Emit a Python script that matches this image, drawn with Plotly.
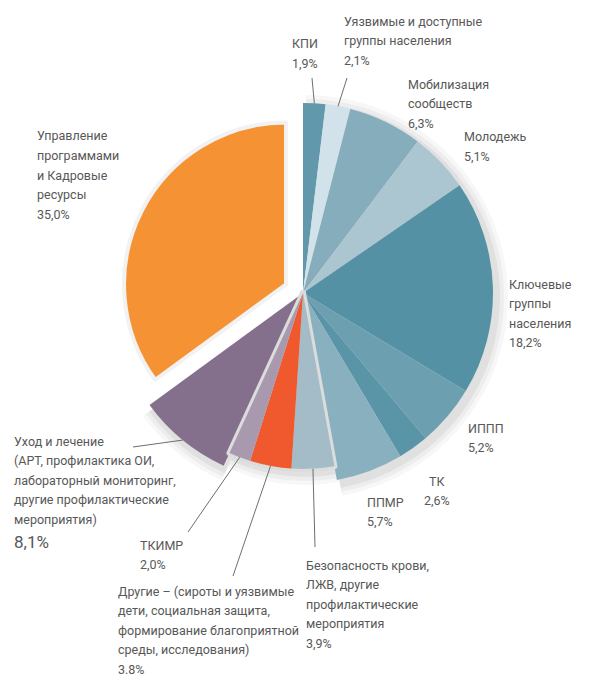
import math
import plotly.graph_objects as go

# page body has an 8px margin on every side; keep the figure inside the window
OFF = 8
W, H = 602 - 2 * OFF, 684 - 2 * OFF
CX, CY = 303, 293          # pie centre (window pixels)
R_MAIN, R_INNER, R_PULLED = 190, 176, 162
PULL_PX = 19

# data, clockwise from 12 o'clock
categories = [
    "КПИ",
    "Уязвимые и доступные группы населения",
    "Мобилизация сообществ",
    "Молодежь",
    "Ключевые группы населения",
    "ИППП",
    "ТК",
    "ППМР",
    "Безопасность крови, ЛЖВ, другие профилактические мероприятия",
    "Другие – (сироты и уязвимые дети, социальная защита, формирование благоприятной среды, исследования)",
    "ТКИМР",
    "Уход и лечение (АРТ, профилактика ОИ, лабораторный мониторинг, другие профилактические мероприятия)",
    "Управление программами и Кадровые ресурсы",
]
shares = [1.9, 2.1, 6.3, 5.1, 18.2, 5.2, 2.6, 5.7, 3.9, 3.8, 2.0, 8.1, 35.0]
share_text = ["1,9%", "2,1%", "6,3%", "5,1%", "18,2%", "5,2%", "2,6%", "5,7%",
              "3,9%", "3.8%", "2,0%", "8,1%", "35,0%"]
label_lines = [
    ["КПИ"],
    ["Уязвимые и доступные", "группы населения"],
    ["Мобилизация", "сообществ"],
    ["Молодежь"],
    ["Ключевые", "группы", "населения"],
    ["ИППП"],
    ["ТК"],
    ["ППМР"],
    ["Безопасность крови,", "ЛЖВ, другие", "профилактические", "мероприятия"],
    ["Другие – (сироты и уязвимые", "дети, социальная защита,", "формирование благоприятной", "среды, исследования)"],
    ["ТКИМР"],
    ["Уход и лечение", "(АРТ, профилактика ОИ,", "лабораторный мониторинг,", "другие профилактические", "мероприятия)"],
    ["Управление", "программами", "и Кадровые", "ресурсы"],
]

colors = ["#6198ab", "#d2e2ea", "#86adbc", "#abc6d1", "#5591a4", "#6c9fb0", "#5a95a7",
          "#88b0bf", "#a3bcc8", "#f0582d", "#a899ae", "#846f8c", "#f59334"]
ring = ["main"] * 8 + ["inner"] * 3 + ["main", "pulled"]

# label placement: (x, centre y of first line, anchor) in window pixels
label_pos = [(291, 44, "left"), (343, 21, "left"), (407, 84, "left"), (463, 137, "left"),
             (508, 284, "left"), (467, 428, "left"), (437, 481, "center"), (366, 502, "left"),
             (305, 565, "left"), (117, 591, "left"), (139, 545, "left"), (13, 441, "left"),
             (36, 136, "left")]
# outer end of leader lines (window pixels), None = no leader
leader_end = [(312, 78), (347, 78), None, None, None, None, None, None,
              (315, 547), (233, 576), (188, 532), (133, 447), None]

FONT = "Roboto, 'Noto Sans', sans-serif"
TXT = "#585858"
FS = 12.5
LINE = 19.6
CLEAR = "rgba(0,0,0,0)"


def to_paper(x, y):
    return (x - OFF) / W, 1 - (y - OFF) / H


def dom(r, dx=0, dy=0):
    x0, y1 = to_paper(CX + dx - r, CY + dy - r)
    x1, y0 = to_paper(CX + dx + r, CY + dy + r)
    return dict(x=[x0, x1], y=[y0, y1])


def layer(col, r, pull=0, line_color=None, line_width=0, dx=0, dy=0):
    lw = [line_width if c != CLEAR else 0 for c in col]
    lc = [line_color or c for c in col]
    pulls = [pull if ring[i] == "pulled" else 0 for i in range(len(shares))]
    return go.Pie(
        labels=categories, values=shares, sort=False, direction="clockwise", rotation=0,
        marker=dict(colors=col, line=dict(color=lc, width=lw)),
        textinfo="none", hoverinfo="label+percent", pull=pulls,
        domain=dom(r * (1 + pull), dx, dy), showlegend=False,
    )


def pick(groups, fill):
    return [fill(i) if ring[i] in groups else CLEAR for i in range(len(shares))]


fig = go.Figure()

# soft drop shadow behind the pie
for grow, a in [(12, 0.03), (8, 0.04), (4, 0.05)]:
    fig.add_trace(layer(pick({"main"}, lambda i: f"rgba(0,0,0,{a})"), R_MAIN + grow, dx=3, dy=4))
    fig.add_trace(layer(pick({"inner"}, lambda i: f"rgba(0,0,0,{a})"), R_INNER + grow, dx=3, dy=4))

fig.add_trace(layer(pick({"main"}, lambda i: colors[i]), R_MAIN))
# light grey seam around the shorter bottom slices
fig.add_trace(layer(pick({"inner"}, lambda i: "#dcdcdc"), R_INNER, line_color="#dcdcdc", line_width=6))
fig.add_trace(layer(pick({"inner"}, lambda i: colors[i]), R_INNER))
fig.add_trace(layer(pick({"pulled"}, lambda i: colors[i]), R_PULLED, pull=PULL_PX / R_PULLED,
                    line_color="#f2f2f2", line_width=4))

# labels and leader lines
total = sum(shares)
cum = 0
radius = {"main": R_MAIN, "inner": R_INNER, "pulled": R_PULLED}
for i, v in enumerate(shares):
    mid = (cum + v / 2) / total * 2 * math.pi
    cum += v
    x, y, anchor = label_pos[i]
    lines = label_lines[i] + [share_text[i]]
    for k, t in enumerate(lines):
        size = FS
        yy = y + k * LINE
        if i == 11 and k == len(lines) - 1:
            size = 17
            yy += 3
        ax, ay = to_paper(x, yy)
        fig.add_annotation(x=ax, y=ay, xref="paper", yref="paper", text=t, showarrow=False,
                           xanchor=anchor, yanchor="middle", align=anchor, borderpad=0,
                           font=dict(family=FONT, size=size, color=TXT))
    if leader_end[i] is not None:
        r = radius[ring[i]]
        x0, y0 = to_paper(CX + r * math.sin(mid), CY - r * math.cos(mid))
        x1, y1 = to_paper(*leader_end[i])
        fig.add_shape(type="line", xref="paper", yref="paper", x0=x0, y0=y0, x1=x1, y1=y1,
                      line=dict(color="#6e6e6e", width=1))

fig.update_layout(
    width=W, height=H,
    margin=dict(l=0, r=0, t=0, b=0),
    paper_bgcolor="white", plot_bgcolor="white",
    font=dict(family=FONT, color=TXT),
)

fig.write_html("out.html")
